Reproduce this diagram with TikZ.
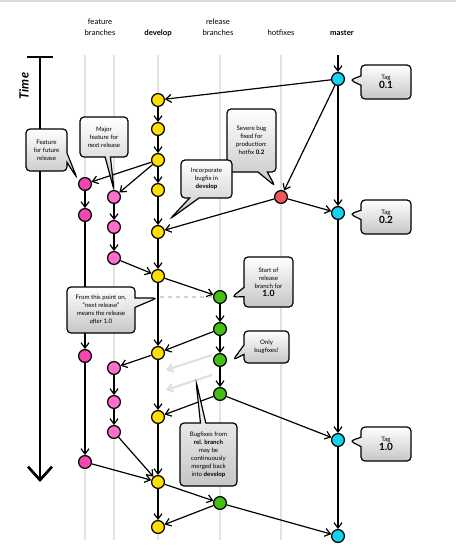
\documentclass[tikz,border=0pt]{standalone}
\usepackage{fontspec}
\setmainfont{Lato}
\usetikzlibrary{arrows.meta,shapes.callouts}
\definecolor{devyellow}{RGB}{255,222,0}
\definecolor{featpink}{RGB}{245,70,175}
\definecolor{featlight}{RGB}{255,110,200}
\definecolor{relgreen}{RGB}{70,190,20}
\definecolor{hotred}{RGB}{240,85,90}
\definecolor{mastercyan}{RGB}{20,210,240}

\begin{document}
\begin{tikzpicture}[x=0.75pt,y=0.75pt,yscale=-1,xscale=1,
    >={Straight Barb[length=4pt,width=6pt]},
    commit/.style={circle,draw,line width=0.9pt,minimum size=9.6pt,inner sep=0pt},
    dev/.style={commit,fill=devyellow},
    feata/.style={commit,fill=featpink},
    featb/.style={commit,fill=featlight},
    rel/.style={commit,fill=relgreen},
    hot/.style={commit,fill=hotred},
    mast/.style={commit,fill=mastercyan},
    lane/.style={draw=gray!22,line width=1.6pt},
    link/.style={->,line width=0.9pt},
    faded/.style={->,draw=gray!25,line width=1.6pt},
    head/.style={align=center,font=\fontsize{5.8}{8.2}\selectfont},
    bubble/.style={rectangle callout,draw,line width=0.9pt,rounded corners=3pt,
        top color=white,bottom color=gray!45,align=center,inner sep=1pt,
        callout pointer width=7pt,font=\fontsize{4.6}{6}\selectfont},
    tagnum/.style={font=\fontsize{7.5}{8}\selectfont\bfseries}]

    \useasboundingbox (0,0) rectangle (456,551);
    \draw[gray!30,line width=1pt] (0,1) -- (456,1);

    % Headers
    \node[head] (hfeat) at (100,27) {feature\\branches};
    \node[head,font=\fontsize{5.8}{8.2}\selectfont\bfseries] (hdev) at (158,33) {develop};
    \node[head] (hrel) at (218,27) {release\\branches};
    \node[head] (hhot) at (281,33) {hotfixes};
    \node[head,font=\fontsize{5.8}{8.2}\selectfont\bfseries] (hmast) at (342,33) {master};

    % Lanes
    \foreach \lx in {85,114,158,220,281}
        \draw[lane] (\lx,55) -- (\lx,540);

    % Time
    \coordinate (t0) at (40,57);
    \coordinate (t1) at (40,482);
    \coordinate (tl) at (27,57);
    \coordinate (tr) at (53,57);
    \draw[line width=2.2pt] (tl) -- (tr);
    \draw[line width=2pt,-{Straight Barb[length=10pt,width=18pt,line width=2pt]}] (t0) -- (t1);
    \node[rotate=90,font=\fontsize{9.5}{10}\selectfont\bfseries\itshape] (time) at (24,86) {Time};

    % Master
    \coordinate (mtop) at (338,55);
    \node[mast] (m1) at (338,79) {};
    \node[mast] (m2) at (338,213) {};
    \node[mast] (m3) at (338,440) {};
    \node[mast] (m4) at (338,536) {};

    % Hotfix
    \node[hot] (h1) at (281,197) {};

    % Develop
    \node[dev] (d1) at (158,100) {};
    \node[dev] (d2) at (158,129) {};
    \node[dev] (d3) at (158,160) {};
    \node[dev] (d4) at (158,190) {};
    \node[dev] (d5) at (158,232) {};
    \node[dev] (d6) at (158,276) {};
    \node[dev] (d7) at (158,353) {};
    \node[dev] (d8) at (158,417) {};
    \node[dev] (d9) at (158,482) {};
    \node[dev] (d10) at (158,527) {};

    % Features
    \node[feata] (fa1) at (85,184) {};
    \node[feata] (fa2) at (85,215) {};
    \node[feata] (fa3) at (85,356) {};
    \node[feata] (fa4) at (85,462) {};
    \node[featb] (fb1) at (114,197) {};
    \node[featb] (fb2) at (114,227) {};
    \node[featb] (fb3) at (114,258) {};
    \node[featb] (fb4) at (114,368) {};
    \node[featb] (fb5) at (114,402) {};
    \node[featb] (fb6) at (114,432) {};

    % Release
    \node[rel] (r1) at (220,297) {};
    \node[rel] (r2) at (220,329) {};
    \node[rel] (r3) at (220,360) {};
    \node[rel] (r4) at (220,394) {};
    \node[rel] (r5) at (220,503) {};

    % Arrows
    \draw[link] (mtop) -- (m1);
    \draw[link] (m1) -- (d1);
    \draw[link] (m1) -- (h1);
    \draw[link] (m1) -- (m2);
    \draw[link] (h1) -- (m2);
    \draw[link] (h1) -- (d5);
    \draw[link] (m2) -- (m3);
    \draw[link] (m3) -- (m4);
    \draw[link] (d1) -- (d2);
    \draw[link] (d2) -- (d3);
    \draw[link] (d3) -- (d4);
    \draw[link] (d4) -- (d5);
    \draw[link] (d5) -- (d6);
    \draw[link] (d6) -- (d7);
    \draw[link] (d7) -- (d8);
    \draw[link] (d8) -- (d9);
    \draw[link] (d9) -- (d10);
    \draw[link] (d3) -- (fa1);
    \draw[link] (d3) -- (fb1);
    \draw[link] (fa1) -- (fa2);
    \draw[link] (fa2) -- (fa3);
    \draw[link] (fa3) -- (fa4);
    \draw[link] (fb1) -- (fb2);
    \draw[link] (fb2) -- (fb3);
    \draw[link] (fb3) -- (d6);
    \draw[link] (d6) -- (r1);
    \draw[link] (r1) -- (r2);
    \draw[link] (r2) -- (r3);
    \draw[link] (r3) -- (r4);
    \draw[link] (r2) -- (d7);
    \draw[link] (d7) -- (fb4);
    \draw[link] (fb4) -- (fb5);
    \draw[link] (fb5) -- (fb6);
    \draw[link] (r4) -- (d8);
    \draw[link] (r4) -- (m3);
    \draw[link] (fb6) -- (d9);
    \draw[link] (fa4) -- (d9);
    \draw[link] (d9) -- (r5);
    \draw[link] (r5) -- (d10);
    \draw[link] (r5) -- (m4);

    % Split and faded merges
    \coordinate (split) at (160,297);
    \draw[gray!35,dashed,line width=0.8pt] (split) -- (r1);
    \coordinate (g1s) at (212,355);
    \coordinate (g1e) at (166,370);
    \coordinate (g2s) at (212,375);
    \coordinate (g2e) at (166,390);
    \draw[faded] (g1s) -- (g1e);
    \draw[faded] (g2s) -- (g2e);

    % Callouts
    \coordinate (p01) at (350,80);
    \coordinate (p02) at (350,214);
    \coordinate (p10) at (350,441);
    \coordinate (pfut) at (77,178);
    \coordinate (pmaj) at (114,190);
    \coordinate (psev) at (275,186);
    \coordinate (pinc) at (170,219);
    \coordinate (pstart) at (232,297);
    \coordinate (pfrom) at (157,298);
    \coordinate (ponly) at (233,360);
    \coordinate (pfix) at (196,381);

    \node[bubble,minimum width=37.5pt,minimum height=25.5pt,callout absolute pointer=(p01)] (tag01) at (386,82) {Tag\\[-1pt]{\fontsize{7.5}{8}\selectfont\bfseries 0.1}};
    \node[bubble,minimum width=37.5pt,minimum height=25.5pt,callout absolute pointer=(p02)] (tag02) at (386,217) {Tag\\[-1pt]{\fontsize{7.5}{8}\selectfont\bfseries 0.2}};
    \node[bubble,minimum width=37.5pt,minimum height=25.5pt,callout absolute pointer=(p10)] (tag10) at (386,444) {Tag\\[-1pt]{\fontsize{7.5}{8}\selectfont\bfseries 1.0}};
    \node[bubble,minimum width=30.75pt,minimum height=31.5pt,callout absolute pointer=(pfut)] (future) at (46.5,150) {Feature\\for future\\release};
    \node[bubble,minimum width=36pt,minimum height=30pt,callout pointer width=4pt,callout absolute pointer=(pmaj)] (major) at (104,137) {Major\\feature for\\next release};
    \node[bubble,minimum width=36.75pt,minimum height=47.25pt,callout absolute pointer=(psev)] (severe) at (251.5,140.5) {Severe bug\\fixed for\\production:\\hotfix \textbf{0.2}};
    \node[bubble,minimum width=38.25pt,minimum height=28.5pt,callout absolute pointer=(pinc)] (incorp) at (206.5,179) {Incorporate\\bugfix in\\\textbf{develop}};
    \node[bubble,minimum width=36.75pt,minimum height=37.5pt,callout absolute pointer=(pstart)] (start) at (268.5,282) {Start of\\release\\branch for\\{\fontsize{6.5}{7}\selectfont\bfseries 1.0}};
    \node[bubble,minimum width=51pt,minimum height=34.5pt,callout absolute pointer=(pfrom)] (from) at (101,310) {From this point on,\\``next release''\\means the release\\\textit{after} 1.0};
    \node[bubble,minimum width=33.75pt,minimum height=24pt,callout absolute pointer=(ponly)] (only) at (266.5,347) {Only\\bugfixes!};
    \node[bubble,minimum width=42.75pt,minimum height=47.25pt,callout pointer width=4pt,callout absolute pointer=(pfix)] (fixes) at (208.5,454.5) {Bugfixes from\\\textbf{rel. branch}\\may be\\continuously\\merged back\\into \textbf{develop}};

\end{tikzpicture}
\end{document}
